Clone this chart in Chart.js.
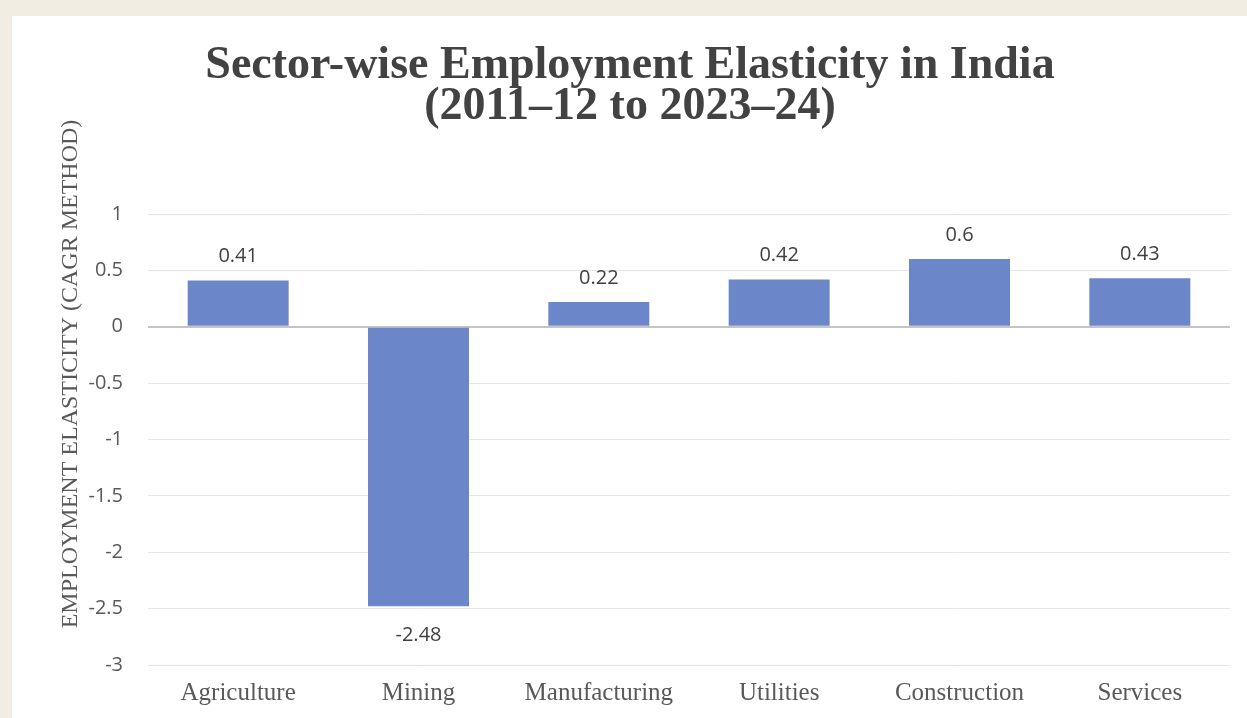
<!DOCTYPE html>
<html>
<head>
<meta charset="utf-8">
<script src="https://cdn.jsdelivr.net/npm/chart.js@4/dist/chart.umd.min.js"></script>
<style>
  html, body { margin: 0; padding: 0; background: #f1ede3; }
  #wrap { width: 1247px; height: 718px; }
</style>
</head>
<body>
<div id="wrap"><canvas id="c" width="1247" height="718"></canvas></div>
<script>
// Employment elasticity by sector, CAGR method
const sectors = ['Agriculture', 'Mining', 'Manufacturing', 'Utilities', 'Construction', 'Services'];
const elasticity = [0.41, -2.48, 0.22, 0.42, 0.6, 0.43];
const yTicks = [1, 0.5, 0, -0.5, -1, -1.5, -2, -2.5, -3];
const titleLines = ['Sector-wise Employment Elasticity in India', '(2011\u201312 to 2023\u201324)'];
const yTitle = 'EMPLOYMENT ELASTICITY (CAGR METHOD)';

const SERIF = '"Liberation Serif", "DejaVu Serif", serif';
const SANS = '"Open Sans", "Liberation Sans", sans-serif';

// Page frame, titles and value labels
const decor = {
  id: 'decor',
  beforeDraw(chart) {
    const ctx = chart.ctx;
    ctx.save();
    ctx.fillStyle = '#f1ede3';
    ctx.fillRect(0, 0, chart.width, chart.height);
    ctx.fillStyle = '#ffffff';
    ctx.fillRect(12, 16, chart.width - 12, chart.height - 16);
    ctx.restore();
  },
  afterDraw(chart) {
    const ctx = chart.ctx;
    ctx.save();
    // title
    ctx.fillStyle = '#424242';
    ctx.textAlign = 'center';
    ctx.textBaseline = 'alphabetic';
    ctx.font = 'bold 46px ' + SERIF;
    ctx.fillText(titleLines[0], 630, 78);
    ctx.fillText(titleLines[1], 630, 119);
    // y axis title
    ctx.fillStyle = '#595959';
    ctx.textBaseline = 'middle';
    ctx.font = '24px ' + SERIF;
    ctx.translate(71, 374);
    ctx.rotate(-Math.PI / 2);
    ctx.fillText(yTitle, 0, 0);
    ctx.restore();

    // value labels
    ctx.save();
    ctx.fillStyle = '#404040';
    ctx.font = '20px ' + SANS;
    ctx.textAlign = 'center';
    ctx.textBaseline = 'middle';
    const meta = chart.getDatasetMeta(0);
    meta.data.forEach((bar, i) => {
      const v = elasticity[i];
      const y = v >= 0 ? bar.y - 24 : bar.y + 29;
      ctx.fillText(String(v), bar.x, y);
    });
    ctx.restore();
  }
};

new Chart(document.getElementById('c'), {
  type: 'bar',
  data: {
    labels: sectors,
    datasets: [{
      data: elasticity,
      backgroundColor: '#6b87c9',
      borderWidth: 0,
      barPercentage: 0.56,
      categoryPercentage: 1.0
    }]
  },
  options: {
    responsive: false,
    animation: false,
    devicePixelRatio: 1,
    layout: { padding: { top: 214, right: 17, left: 0, bottom: 0 } },
    plugins: {
      legend: { display: false },
      title: { display: false },
      tooltip: { enabled: false }
    },
    scales: {
      x: {
        grid: { display: false, drawTicks: false },
        border: { display: false },
        ticks: {
          color: '#595959',
          font: { family: SERIF, size: 25 },
          padding: 13
        },
        afterFit(scale) { scale.height = 53; }
      },
      y: {
        min: -3,
        max: 1,
        afterBuildTicks(scale) { scale.ticks = yTicks.map(v => ({ value: v })); },
        grid: {
          drawTicks: false,
          color: c => (c.tick && c.tick.value === 0) ? '#c4c4c4' : '#e6e6e6',
          lineWidth: c => (c.tick && c.tick.value === 0) ? 2 : 1
        },
        border: { display: false },
        ticks: {
          color: '#595959',
          font: { family: SANS, size: 20 },
          padding: 25,
          callback: v => String(v)
        },
        afterFit(scale) { scale.width = 148; }
      }
    }
  },
  plugins: [decor]
});
</script>
</body>
</html>
